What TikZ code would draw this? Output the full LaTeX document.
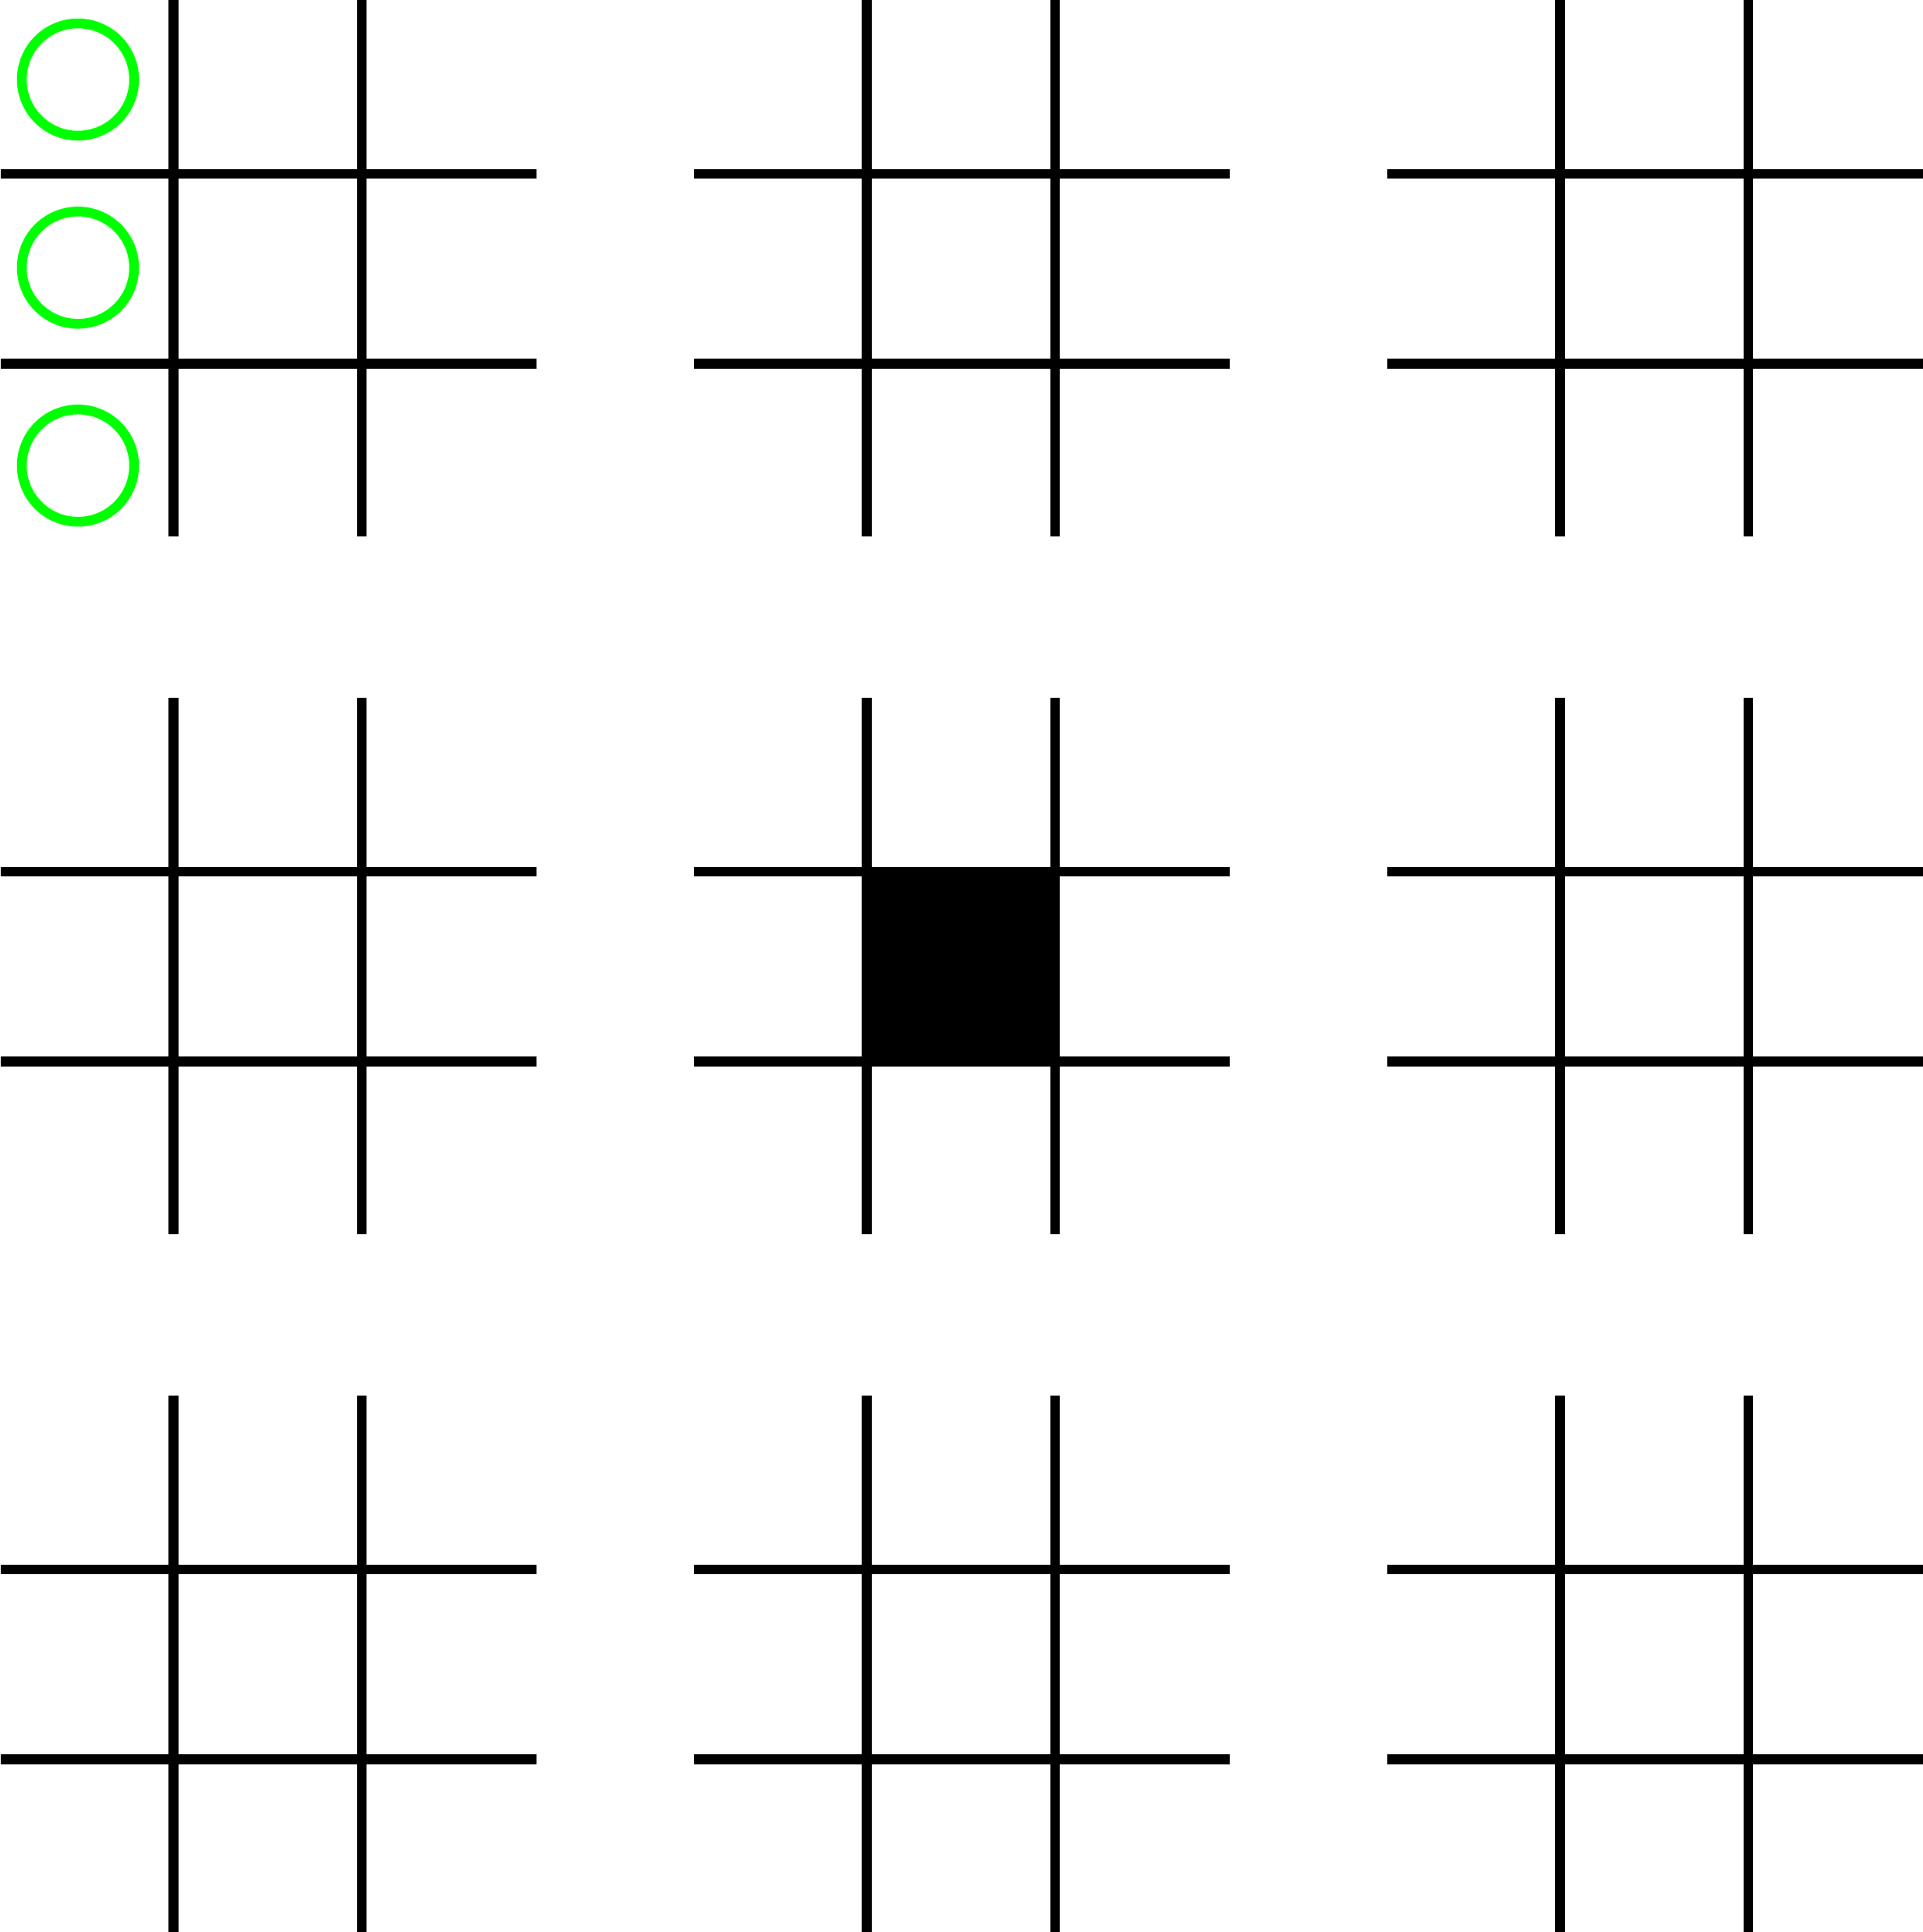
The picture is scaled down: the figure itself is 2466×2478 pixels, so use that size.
\documentclass[tikz,border=0pt]{standalone}
\definecolor{mark green}{HTML}{00FF00}
\tikzset{
  gridline/.style={line width=0.123cm, black, line cap=butt},
  ocircle/.style={line width=0.125cm, draw=mark green},
  filledcell/.style={fill=black, draw=none}
}
\begin{document}
\begin{tikzpicture}[x=0.01cm, y=-0.01cm]
\useasboundingbox (0,0) rectangle (2466,2478);
\foreach \ox in {0,889,1778}{
  \foreach \oy in {0,895,1790}{
    \draw[gridline] (\ox+1,\oy+223) -- (\ox+688,\oy+223);
    \draw[gridline] (\ox+1,\oy+466.5) -- (\ox+688,\oy+466.5);
    \draw[gridline] (\ox+222.5,\oy) -- (\ox+222.5,\oy+688);
    \draw[gridline] (\ox+464,\oy) -- (\ox+464,\oy+688);
  }
}
% filled centre cell of the middle board
\fill[filledcell] (1105,1111.7) rectangle (1359,1367.7);
% green O marks in the left column of the first board
\draw[ocircle] (100,102) circle (72);
\draw[ocircle] (100,343.3) circle (72);
\draw[ocircle] (100,597.2) circle (72);
\end{tikzpicture}
\end{document}
